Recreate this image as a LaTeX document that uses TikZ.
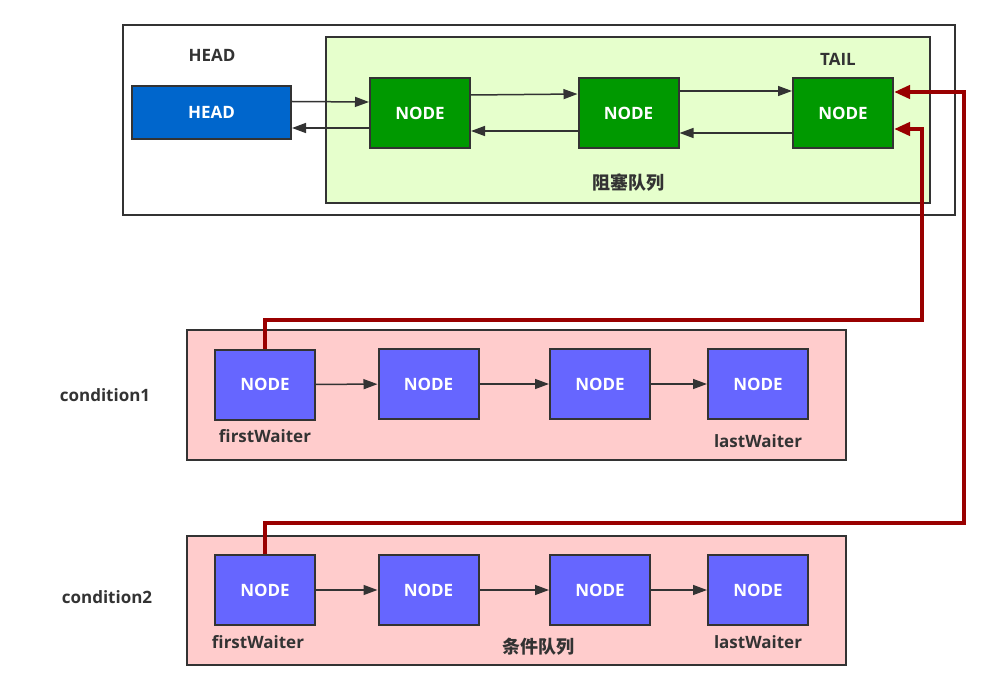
\documentclass[tikz,border=0pt]{standalone}
\usepackage{fontspec}
\setmainfont{Open Sans}
\newfontfamily\cjk{Noto Sans CJK SC}
\usetikzlibrary{arrows.meta}
\usepackage{xcolor}
\definecolor{headblue}{HTML}{0066CC}
\definecolor{nodegreen}{HTML}{009900}
\definecolor{softgreen}{HTML}{E6FFCC}
\definecolor{nodeviolet}{HTML}{6666FF}
\definecolor{softpink}{HTML}{FFCCCC}
\definecolor{linkred}{HTML}{990000}
\definecolor{darkline}{HTML}{333333}
\tikzset{
  panel/.style={draw=darkline,line width=2pt,inner sep=0pt},
  qnode/.style={draw=darkline,line width=2pt,text=white,font=\fontsize{17}{20}\selectfont\bfseries,inner sep=0pt,minimum width=100pt,minimum height=70pt},
  lbl/.style={text=darkline,font=\fontsize{17}{20}\selectfont\bfseries},
  cnlbl/.style={text=darkline,font=\cjk\fontsize{18}{20}\selectfont\bfseries},
  link/.style={draw=darkline,line width=1.5pt,-{Triangle[length=14pt,width=10pt]}},
  redlink/.style={draw=linkred,line width=4pt,-{Triangle[length=16pt,width=13pt]}}
}

\begin{document}
\begin{tikzpicture}[x=1pt,y=-1pt]
\useasboundingbox[fill=white] (0,0) rectangle (986,687);
\node[panel,minimum width=832pt,minimum height=190pt] (outer) at (539,120) {};
\node[panel,fill=softgreen,minimum width=604pt,minimum height=166pt] (sync) at (628,120) {};
\node[panel,fill=softpink,minimum width=659pt,minimum height=130pt] (cond1) at (516.5,395) {};
\node[panel,fill=softpink,minimum width=659pt,minimum height=129pt] (cond2) at (516.5,600.5) {};
\node[qnode,fill=headblue,minimum width=159pt,minimum height=53pt] (head) at (211.5,112.5) {HEAD};
\node[qnode,fill=nodegreen] (n1) at (420,113) {NODE};
\node[qnode,fill=nodegreen] (n2) at (628.5,113) {NODE};
\node[qnode,fill=nodegreen] (n3) at (843,113) {NODE};
\node[lbl] (headlbl) at (212,55) {HEAD};
\node[lbl] (taillbl) at (838,59) {TAIL};
\node[cnlbl] (synclbl) at (628,183) {阻塞队列};
\draw[link] ([yshift=11pt]head.east) -- ([yshift=11pt]n1.west);
\draw[link] ([yshift=-15pt]n1.west) -- ([yshift=-15.5pt]head.east);
\draw[link] ([yshift=18pt]n1.east) -- ([yshift=19pt]n2.west);
\draw[link] ([yshift=-18pt]n2.west) -- ([yshift=-18pt]n1.east);
\draw[link] ([yshift=22pt]n2.east) -- ([yshift=22pt]n3.west);
\draw[link] ([yshift=-20pt]n3.west) -- ([yshift=-20pt]n2.east);
\node[qnode,fill=nodeviolet] (c1a) at (265,384.5) {NODE};
\node[qnode,fill=nodeviolet] (c1b) at (428.5,384) {NODE};
\node[qnode,fill=nodeviolet] (c1c) at (600,384) {NODE};
\node[qnode,fill=nodeviolet] (c1d) at (758,384) {NODE};
\node[lbl] (c1name) at (105,395) {condition1};
\node[lbl] (c1first) at (265,436) {firstWaiter};
\node[lbl] (c1last) at (758,441) {lastWaiter};
\draw[link] (c1a) -- (c1b);
\draw[link] (c1b) -- (c1c);
\draw[link] (c1c) -- (c1d);
\node[qnode,fill=nodeviolet] (c2a) at (265,590) {NODE};
\node[qnode,fill=nodeviolet] (c2b) at (428.5,590) {NODE};
\node[qnode,fill=nodeviolet] (c2c) at (600,590) {NODE};
\node[qnode,fill=nodeviolet] (c2d) at (758,590) {NODE};
\node[lbl] (c2name) at (107,597) {condition2};
\node[lbl] (c2first) at (258,642) {firstWaiter};
\node[cnlbl] (condlbl) at (538,647) {条件队列};
\node[lbl] (c2last) at (758,642) {lastWaiter};
\draw[link] (c2a) -- (c2b);
\draw[link] (c2b) -- (c2c);
\draw[link] (c2c) -- (c2d);
\draw[redlink] (c1a.north) |- (922,320) |- ([yshift=-16pt]n3.east);
\draw[redlink] (c2a.north) |- (964,523) |- ([yshift=21pt]n3.east);
\end{tikzpicture}
\end{document}
